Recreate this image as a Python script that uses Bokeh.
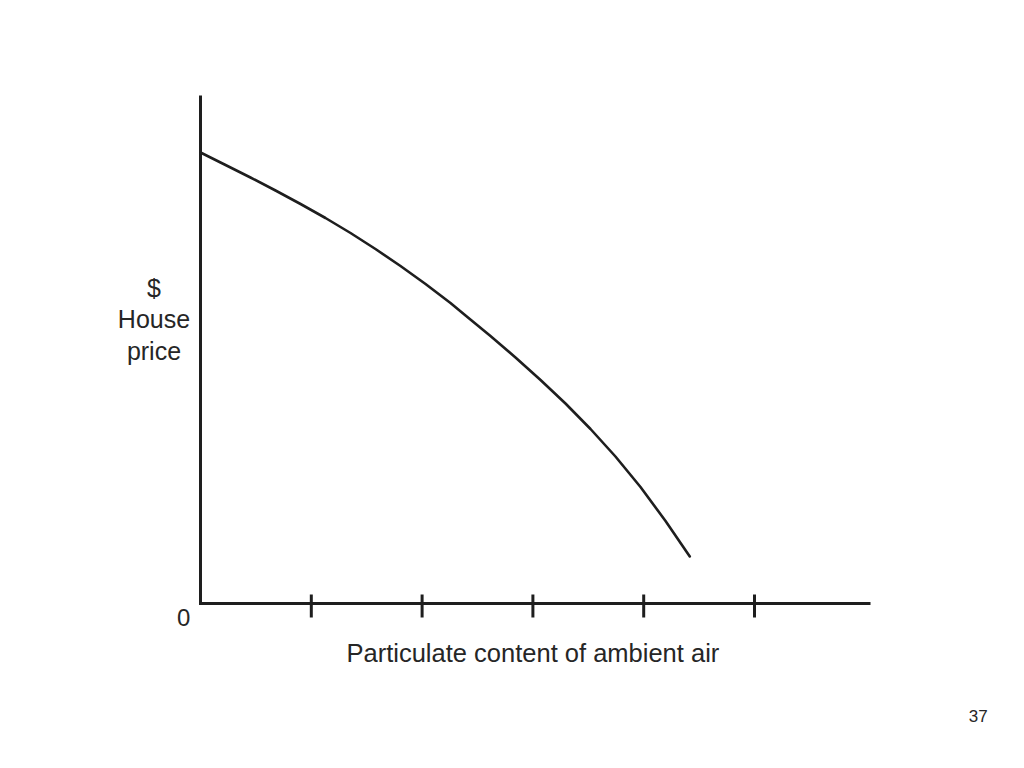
from bokeh.plotting import figure
from bokeh.core.properties import value
from bokeh.embed import file_html
from bokeh.resources import INLINE

# Data
curve_x = [0.0, 0.226, 0.451, 0.677, 0.903, 1.128, 1.354, 1.579, 1.805, 2.031,
           2.256, 2.392, 2.617, 2.843, 3.069, 3.294, 3.520, 3.745, 3.971,
           4.197, 4.416]
curve_y = [4.51, 4.385, 4.26, 4.13, 3.995, 3.855, 3.705, 3.545, 3.375, 3.195,
           3.005, 2.88, 2.675, 2.46, 2.235, 2.0, 1.745, 1.47, 1.165,
           0.825, 0.47]
x_ticks = [1, 2, 3, 4, 5]
axis_x_max = 6.047
axis_y_max = 5.08
x_label = "Particulate content of ambient air"
y_label_lines = ["$", "House", "price"]
origin_label = "0"
page_number = "37"

FONT = "Liberation Sans"
INK = "#1e1e1e"
TXT = "#262626"

p = figure(
    width=1008, height=752, min_border=0,
    x_range=(-1.8051, 7.2924), y_range=(-1.49, 6.03),
    x_axis_type=None, y_axis_type=None,
    output_backend="svg", toolbar_location=None,
)
p.outline_line_color = None
p.grid.visible = False
p.background_fill_color = "white"
p.border_fill_color = "white"

# axes
p.line([0, 0, axis_x_max], [axis_y_max, 0, 0], line_width=3, line_color=INK,
       line_join="miter", line_cap="butt")
p.segment(x0=x_ticks, y0=[0.09] * len(x_ticks), x1=x_ticks, y1=[-0.14] * len(x_ticks),
          line_width=3, line_color=INK)

# curve
p.line(curve_x, curve_y, line_width=2.6, line_color=INK, line_cap="round", line_join="round")

def lab(xs, ys, texts, size):
    p.text(x=xs, y=ys, text=texts, text_font=value(FONT), text_font_size=size,
           text_color=TXT, text_align="center", text_baseline="middle")

lab([-0.153], [-0.14], [origin_label], "24px")
lab([-0.42] * 3, [3.16, 2.85, 2.53], y_label_lines, "25px")
lab([3.0], [-0.49], [x_label], "25.5px")
lab([7.02], [-1.12], [page_number], "17px")

open("out.html", "w").write(file_html(p, INLINE))
